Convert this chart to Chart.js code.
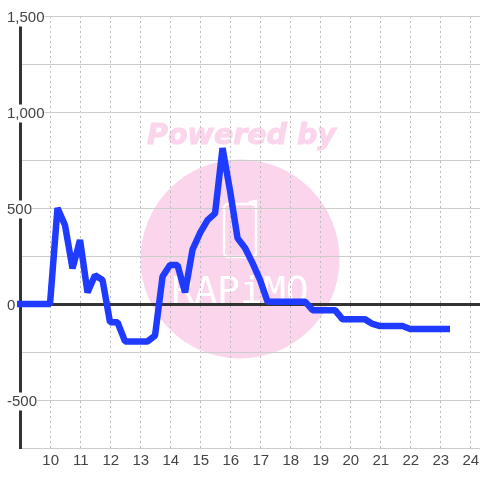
<!DOCTYPE html>
<html>
<head>
<meta charset="utf-8">
<style>
  html, body { margin: 0; padding: 0; background: #fff; }
  #wrap { width: 480px; height: 480px; }
</style>
<script src="https://cdn.jsdelivr.net/npm/chart.js@4"></script>
</head>
<body>
<div id="wrap"><canvas id="chart" width="480" height="480"></canvas></div>
<script>
const hours = [8.9, 10, 10.25, 10.5, 10.75, 11, 11.25, 11.5, 11.75, 12, 12.25, 12.5, 12.75, 13, 13.25, 13.5, 13.75, 14, 14.25, 14.5, 14.75, 15, 15.25, 15.5, 15.75, 16, 16.25, 16.5, 16.75, 17, 17.25, 17.5, 17.75, 18, 18.25, 18.5, 18.75, 19, 19.25, 19.5, 19.75, 20, 20.25, 20.5, 20.75, 21, 21.25, 21.5, 21.75, 22, 22.25, 22.5, 22.75, 23, 23.33];
const values = [0, 0, 500, 410, 185, 333, 60, 150, 125, -95, -95, -195, -195, -195, -195, -165, 143, 203, 203, 60, 283, 370, 437, 472, 812, 590, 343, 292, 213, 125, 12, 12, 12, 12, 12, 12, -32, -32, -32, -32, -80, -80, -80, -80, -104, -115, -115, -115, -115, -130, -130, -130, -130, -130, -130];

// watermark sits behind the grid
const watermark = {
  id: "watermark",
  beforeDraw(c) {
    const ctx = c.ctx;
    ctx.save();
    ctx.fillStyle = "#fbd5ec";
    ctx.beginPath();
    ctx.arc(240, 259, 99.5, 0, Math.PI * 2);
    ctx.fill();
    ctx.textAlign = "center";
    ctx.textBaseline = "alphabetic";
    ctx.font = "italic bold 28.5px 'DejaVu Sans'";
    ctx.strokeStyle = "#fbd5ec";
    ctx.lineWidth = 1;
    ctx.fillText("Powered by", 241.5, 144);
    ctx.strokeText("Powered by", 241.5, 144);
    ctx.fillStyle = "#fff";
    ctx.font = "38px 'DejaVu Sans Mono'";
    ctx.fillText("RAPiMO", 240, 303);
    ctx.strokeStyle = "#fff";
    ctx.lineWidth = 2.5;
    ctx.beginPath();
    ctx.roundRect(224, 204, 32, 53, 4);
    ctx.moveTo(250, 204);
    ctx.lineTo(250, 202);
    ctx.lineTo(256, 201);
    ctx.lineTo(256, 210);
    ctx.stroke();
    ctx.restore();
  },
};

new Chart("chart", {
  type: "line",
  plugins: [watermark],
  data: {
    labels: hours,
    datasets: [
      {
        data: values.map((v, i) => ({ x: hours[i], y: v })),
        borderColor: "#1f3bff",
        borderWidth: 6.5,
        borderJoinStyle: "bevel",
        pointRadius: 0,
        tension: 0,
        clip: false,
      },
    ],
  },
  options: {
    responsive: false,
    animation: false,
    layout: { padding: { left: 7, top: 16, right: 0, bottom: 0 } },
    plugins: {
      legend: { display: false },
      tooltip: { enabled: false },
    },
    scales: {
      x: {
        type: "linear",
        min: 9,
        max: 24.33,
        afterFit: (s) => {
          s.height = 32;
          s.paddingLeft = 0;
          s.paddingRight = 0;
        },
        border: { display: false, dash: [2, 3] },
        grid: {
          color: (c) => (c.tick && c.tick.value === 9 ? "transparent" : "#bbb"),
          drawTicks: false,
        },
        ticks: {
          stepSize: 1,
          includeBounds: false,
          autoSkip: false,
          maxRotation: 0,
          padding: 4,
          labelOffset: 0.7,
          color: "#444",
          font: { family: "'Liberation Sans'", size: 15 },
          callback: (v) => (v === 9 ? "" : v),
        },
      },
      y: {
        min: -750,
        max: 1500,
        afterFit: (s) => { s.width = 13; },
        border: { display: true, color: "#333", width: 3 },
        grid: {
          color: (c) => (c.tick && c.tick.value === 0 ? "#333" : "#ccc"),
          lineWidth: (c) => (c.tick && c.tick.value === 0 ? 3 : 1),
          drawTicks: false,
        },
        ticks: {
          stepSize: 250,
          autoSkip: false,
          mirror: true,
          crossAlign: "near",
          padding: -13,
          labelOffset: 1.5,
          color: "#444",
          font: { family: "'Liberation Sans'", size: 15 },
          showLabelBackdrop: true,
          backdropColor: "#fff",
          backdropPadding: 0,
          callback: (v) => (v % 500 === 0 ? v.toLocaleString("en-US") : ""),
        },
      },
    },
  },
});
</script>
</body>
</html>
